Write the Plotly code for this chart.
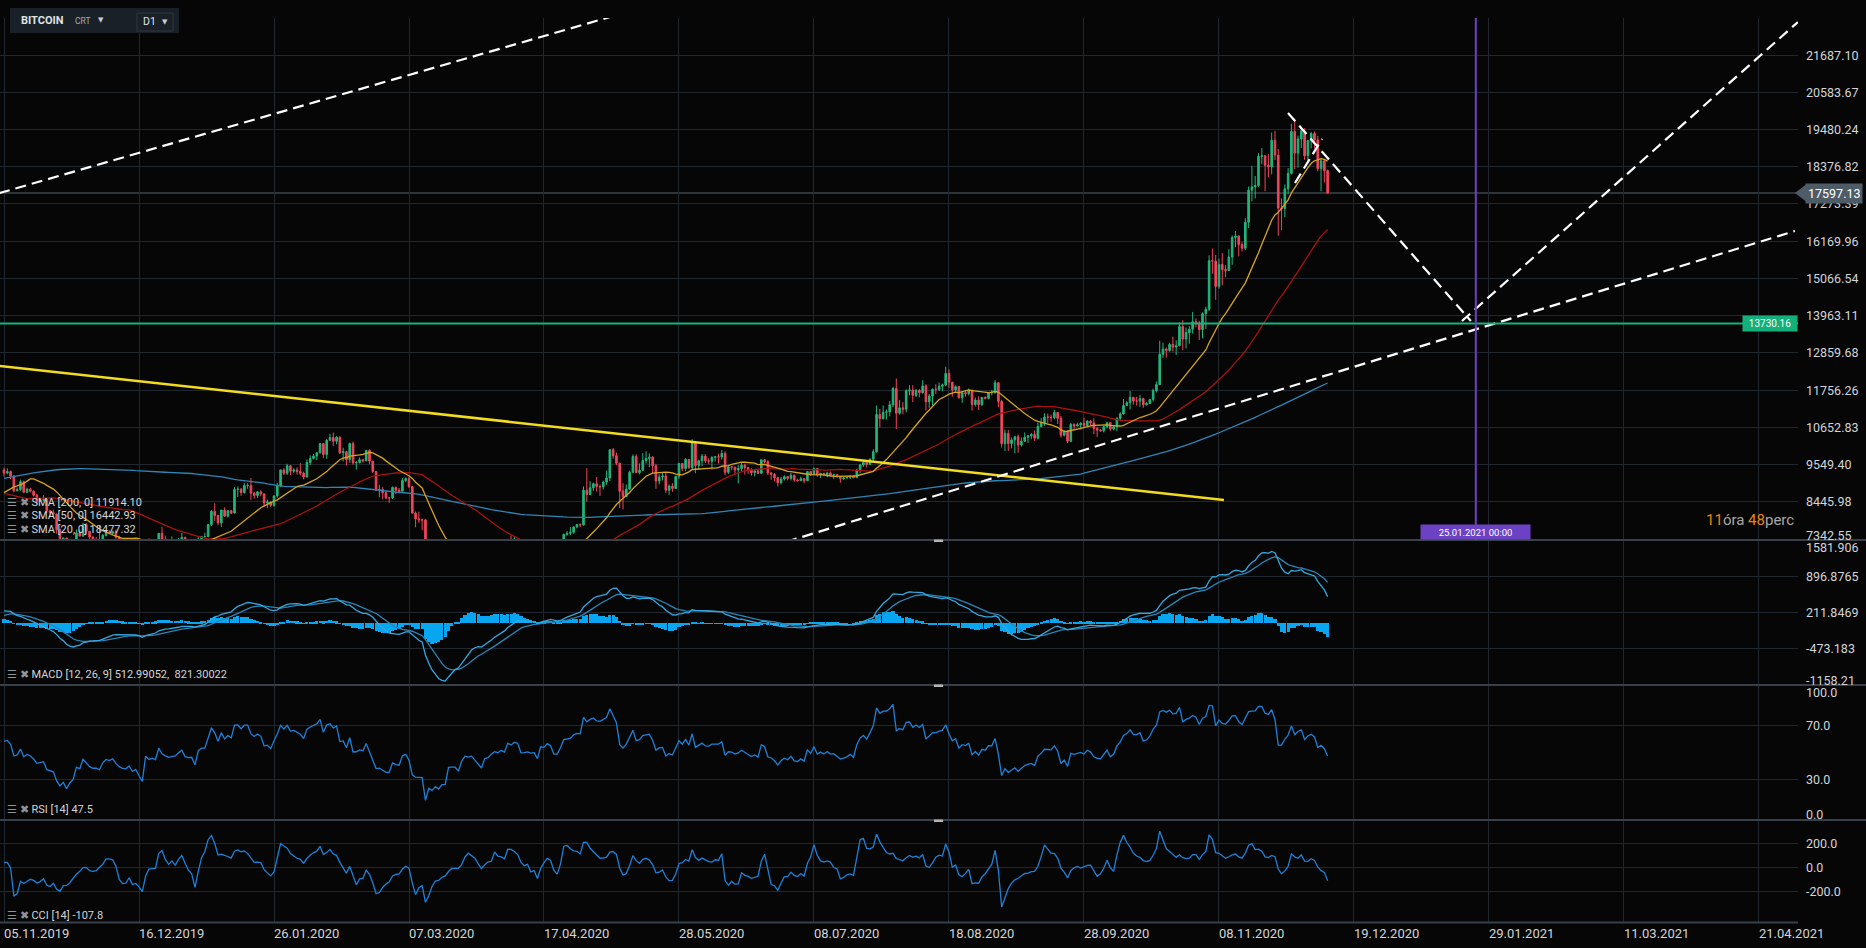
import numpy as np
import pandas as pd
import plotly.graph_objects as go

FONT = "Roboto"
BG = "#060606"
GRID = "#20272e"
SEP = "#38414a"
TXT = "#d2d5d8"
UP = "#22b57c"
DOWN = "#f0455b"

# ---- BITCOIN D1 candles 05.11.2019 - 11.12.2020 (open = previous close) ----
start_date = "2019-11-05"

close = [
    9300, 9340, 9210, 8770, 8810, 9040, 8730, 8820, 8760, 8640, 8460, 8490, 8510, 8180, 8120, 8080, 7620, 7280, 7370, 6900, 7050, 7150, 7520, 7430, 7760, 7570,
    7400, 7320, 7320, 7250, 7450, 7550, 7510, 7560, 7400, 7280, 7210, 7200, 7260, 7070, 7110, 6880, 6620, 7280, 7150, 7190, 7140, 7510, 7320, 7250, 7200, 7220, 7240, 7320, 7390, 7220, 7190,
    7200, 6990, 7340, 7410, 7410, 7770, 8160, 8040, 7820, 8200, 8020, 8180, 8110, 8810, 8820, 8720, 8930, 8930, 8700, 8630, 8740, 8680, 8410, 8440, 8340, 8620, 8910, 9390, 9290, 9510, 9350,
    9390, 9340, 9290, 9180, 9610, 9730, 9800, 9900, 10170, 9850, 10270, 10350, 10240, 10360, 9900, 9930, 9700, 10170, 9600, 9610, 9690, 9660, 9970, 9650, 9340, 8790, 8810, 8710, 8560,
    8560, 8870, 8790, 8760, 9080, 9130, 8900, 8110, 7940, 7910, 7910, 4970, 5560, 5200, 5390, 5010, 5230, 5240, 6190, 6200, 6190, 5830, 6420, 6740, 6680, 6730, 6470, 6240, 5880, 6390, 6440,
    6640, 6790, 6730, 6860, 6770, 7270, 7180, 7340, 7300, 6870, 6880, 6910, 6860, 6880, 6640, 7120, 7100, 7260, 7190, 6880, 6880, 7120, 7480, 7510, 7540, 7700, 7770, 7760, 8790, 8660,
    8860, 8980, 8900, 8890, 9030, 9150, 9990, 9810, 9590, 8760, 8600, 8820, 9320, 9790, 9310, 9380, 9670, 9730, 9770, 9510, 9060, 9180, 9210, 8790, 8910, 8840, 9200, 9580, 9430, 9700, 9460,
    10200, 9520, 9660, 9800, 9660, 9650, 9760, 9780, 9770, 9880, 9320, 9480, 9470, 9390, 9430, 9530, 9460, 9390, 9310, 9360, 9290, 9690, 9630, 9300, 9260, 9160, 9010, 9120, 9190, 9140,
    9230, 9090, 9070, 9130, 9070, 9340, 9250, 9430, 9240, 9290, 9240, 9300, 9240, 9250, 9190, 9130, 9150, 9170, 9210, 9160, 9390, 9540, 9610, 9550, 9710, 9930, 11030, 10910, 11100, 11110, 11320,
    11800, 11070, 11230, 11190, 11740, 11760, 11600, 11750, 11680, 11880, 11410, 11580, 11780, 11770, 11870, 11910, 12250, 11990, 11760, 11860, 11530, 11680, 11650, 11750, 11330, 11460, 11320, 11540, 11510, 11680, 11680,
    11970, 11420, 10170, 10470, 10170, 10280, 10370, 10130, 10240, 10360, 10400, 10440, 10330, 10680, 10790, 10960, 10950, 10940, 11090, 10920, 10420, 10540, 10240, 10740, 10690, 10730, 10770, 10710, 10840, 10780,
    10620, 10570, 10550, 10670, 10790, 10600, 10670, 10920, 11050, 11300, 11380, 11540, 11430, 11430, 11500, 11320, 11360, 11480, 11740, 11920, 12820, 12970, 12930, 13110, 13030, 13070, 13640, 13270, 13460, 13560, 13780,
    13740, 13550, 14020, 14150, 15590, 15580, 14830, 15480, 15330, 15300, 15700, 16280, 16320, 16070, 15960, 16730, 17680, 17780, 17820, 18680, 18700, 18420, 18370, 19160, 18720, 17150, 17140, 17720, 18180, 19420,
    18780, 19200, 19440, 18700, 19150, 19360, 19170, 18320, 18550, 18260, 17597.13,
]
high = [
    9460, 9440, 9370, 9230, 8870, 9100, 9070, 8860, 8860, 8790, 8680, 8540, 8640, 8520, 8200, 8210, 8100, 7650, 7380, 7380, 7260, 7220, 7630, 7620, 7830, 7820,
    7570, 7420, 7400, 7750, 7490, 7560, 7600, 7590, 7620, 7440, 7300, 7250, 7310, 7270, 7160, 7140, 6920, 7330, 7360, 7220, 7200, 7520, 7700, 7440, 7270, 7420, 7270, 7370, 7520, 7410, 7320,
    7250, 7210, 7410, 7420, 7530, 7780, 8200, 8400, 8060, 8200, 8280, 8200, 8200, 8880, 8900, 8850, 9000, 9000, 9150, 8740, 8760, 8790, 8680, 8510, 8450, 8630, 9010, 9400, 9440, 9570, 9530,
    9440, 9470, 9590, 9340, 9700, 9820, 9860, 9900, 10180, 10170, 10300, 10460, 10500, 10390, 10380, 10050, 9950, 10200, 10230, 9660, 9760, 9720, 9980, 10000, 9650, 9360, 8950, 8890, 8770,
    8590, 8900, 8900, 8850, 9150, 9170, 9190, 8900, 8160, 8150, 7950, 7920, 5840, 5640, 5880, 5390, 5370, 5330, 6330, 6860, 6380, 6390, 6430, 6800, 6940, 6770, 6820, 6470, 6260, 6570, 6520,
    6680, 7150, 7000, 6900, 6880, 7340, 7450, 7400, 7350, 7300, 6940, 7180, 6910, 6950, 6920, 7170, 7150, 7300, 7280, 7240, 6940, 7150, 7500, 7580, 7700, 7720, 7780, 7800, 8900, 9440,
    9060, 9010, 9180, 8960, 9070, 9370, 10000, 10040, 9900, 9590, 9000, 8960, 9370, 9850, 9850, 9580, 9890, 9940, 9880, 9800, 9570, 9260, 9310, 9300, 8960, 9000, 9210, 9600, 9600, 9740, 9700,
    10300, 10230, 9690, 9860, 9860, 9730, 9800, 9800, 9870, 9980, 9940, 9540, 9500, 9480, 9530, 9590, 9570, 9480, 9440, 9400, 9420, 9700, 9710, 9680, 9330, 9300, 9190, 9180, 9230, 9200,
    9300, 9250, 9130, 9190, 9140, 9360, 9350, 9460, 9440, 9300, 9300, 9330, 9340, 9280, 9270, 9210, 9180, 9200, 9240, 9220, 9420, 9550, 9640, 9660, 9730, 10000, 11300, 11200, 11300, 11180, 11430,
    11850, 12100, 11460, 11400, 11780, 11900, 11900, 11780, 11790, 12050, 11930, 11640, 11800, 11930, 11980, 11950, 12450, 12370, 12000, 11890, 11880, 11690, 11720, 11800, 11770, 11530, 11570, 11550, 11570, 11690, 11760,
    12050, 11980, 11470, 10580, 10570, 10350, 10400, 10440, 10350, 10500, 10420, 10480, 10560, 10790, 10930, 11070, 11060, 11030, 11170, 11100, 10990, 10560, 10560, 10780, 10770, 10790, 10800, 10940, 10860, 10860,
    10920, 10660, 10600, 10690, 10800, 10800, 10690, 10950, 11100, 11490, 11430, 11730, 11550, 11560, 11610, 11530, 11400, 11490, 11800, 12010, 13220, 13160, 13020, 13160, 13340, 13230, 13760, 13830, 13610, 13650, 14070,
    13880, 13810, 14060, 14230, 15750, 15950, 15760, 15650, 15820, 15460, 15930, 16340, 16470, 16340, 16140, 16850, 17790, 18400, 18100, 18780, 18930, 18720, 18750, 19390, 19440, 18900, 17440, 17850, 18340, 19650,
    19800, 19300, 19560, 19520, 19170, 19410, 19420, 19290, 18630, 18560, 18290,
]
low = [
    9200, 9260, 9110, 8730, 8760, 8770, 8700, 8700, 8720, 8600, 8380, 8440, 8460, 8110, 8000, 8050, 7500, 6950, 7170, 6860, 6620, 7020, 6900, 7420, 7420, 7480,
    7250, 7260, 7260, 7100, 7240, 7420, 7490, 7460, 7350, 7190, 7170, 7110, 7190, 7060, 7030, 6860, 6580, 6470, 7050, 7120, 7130, 7140, 7270, 7170, 7150, 7170, 7080, 7230, 7290, 7220, 7160,
    7170, 6940, 6910, 7290, 7400, 7410, 7720, 7880, 7760, 7700, 8000, 7980, 8080, 8100, 8590, 8620, 8690, 8830, 8500, 8540, 8560, 8610, 8300, 8250, 8300, 8300, 8570, 8880, 9240, 9240, 9240,
    9300, 9250, 9230, 9110, 9170, 9540, 9710, 9680, 9870, 9740, 9720, 10250, 10100, 10150, 9860, 9640, 9520, 9600, 9550, 9400, 9580, 9610, 9650, 9560, 9300, 8770, 8580, 8520, 8520,
    8410, 8530, 8670, 8690, 8760, 9030, 8850, 8100, 7690, 7820, 7600, 4860, 3860, 5090, 5180, 4580, 4980, 5040, 5230, 5860, 5910, 5810, 5790, 6380, 6500, 6540, 6430, 6060, 5860, 5860, 6370,
    6200, 6620, 6640, 6680, 6700, 6770, 7120, 7160, 7200, 6800, 6810, 6830, 6620, 6790, 6620, 6560, 7010, 7060, 7100, 6810, 6830, 6860, 7050, 7440, 7460, 7500, 7660, 7700, 7740, 8450,
    8640, 8770, 8750, 8620, 8810, 8950, 9060, 9720, 9530, 8260, 8220, 8580, 8800, 9300, 9300, 9260, 9380, 9580, 9470, 9300, 8830, 8960, 9080, 8710, 8650, 8740, 8820, 9130, 9350, 9350, 9420,
    9420, 9290, 9400, 9500, 9590, 9560, 9400, 9640, 9580, 9700, 9230, 9270, 9380, 9250, 8990, 9360, 9250, 9280, 9220, 9200, 9270, 9280, 9580, 9240, 9100, 9050, 8900, 8960, 9080, 9080,
    9080, 9040, 9050, 9060, 8990, 9060, 9210, 9240, 9190, 9150, 9200, 9170, 9210, 9120, 9160, 9010, 9090, 9130, 9120, 9140, 9150, 9290, 9480, 9460, 9540, 9650, 9900, 10650, 10880, 10880, 10980,
    11250, 10600, 11030, 11040, 11100, 11600, 11400, 11550, 11540, 11650, 11150, 11230, 11300, 11640, 11730, 11720, 11870, 11820, 11560, 11700, 11500, 11380, 11560, 11600, 11150, 11270, 11170, 11290, 11480, 11480, 11600,
    11650, 11250, 10050, 9950, 9950, 10030, 9880, 9900, 10080, 10220, 10190, 10300, 10250, 10290, 10650, 10700, 10790, 10820, 10890, 10750, 10350, 10380, 10180, 10210, 10570, 10680, 10590, 10650, 10660, 10690,
    10450, 10370, 10520, 10500, 10620, 10550, 10560, 10540, 10830, 11030, 11280, 11180, 11320, 11300, 11260, 11230, 11300, 11340, 11420, 11690, 11900, 12710, 12720, 12890, 12900, 12800, 13050, 12940, 12990, 13130, 13430,
    13620, 13240, 13290, 13570, 14100, 15200, 14430, 14760, 14860, 15100, 15280, 15470, 15990, 15720, 15870, 15900, 16560, 17350, 17440, 17780, 18450, 17650, 18060, 18150, 18570, 16330, 16500, 16880, 17560, 18140,
    18300, 18350, 18930, 18580, 18500, 18920, 18910, 18240, 17650, 17910, 17570,
]

# closes 19.04.2019 - 04.11.2019, only used to warm up SMA / MACD / RSI
pre_close = [
    5280, 5330, 5290, 5360, 5480, 5460, 5230, 5280, 5290, 5250, 5210, 5350,
    5400, 5510, 5750, 5830, 5760, 5720, 5870, 5980, 6160, 6350, 7210, 6970, 7810, 7990, 8200, 7880, 7350, 7260, 8190, 7990, 7950, 7630, 7880, 7990, 8050, 8670, 8800, 8720, 8660, 8270, 8560,
    8560, 8740, 8210, 7700, 7790, 7800, 8000, 7930, 7630, 8010, 7920, 8170, 8230, 8690, 8860, 8990, 9320, 9080, 9270, 9530, 10150, 10700, 10850, 11010, 11790, 13020, 11180, 12400, 11960, 10820,
    10580, 10800, 11980, 11210, 10980, 11210, 11480, 12300, 12580, 12100, 11350, 11800, 11390, 10260, 10850, 9470, 9690, 10650, 10530, 10760, 10590, 10330, 9910, 9850, 9890, 9840, 9480, 9530, 9530, 9500, 10090,
    10400, 10520, 10820, 10970, 11800, 11480, 11960, 11930, 11870, 11310, 11550, 11390, 10860, 10020, 10300, 10360, 10230, 10340, 10920, 10760, 10130, 10410, 10630, 10140, 10140, 10370, 10190, 9700, 9490, 9580, 9600,
    9760, 10390, 10620, 10590, 10580, 10320, 10500, 10440, 10340, 10120, 10150, 10360, 10360, 10360, 10310, 10260, 10180, 10160, 10280, 10170, 9990, 10030, 9700, 8530, 8430, 8060, 8240, 8210, 8050, 8290,
    8340, 8390, 8220, 8150, 8140, 7870, 8210, 8200, 8590, 8590, 8260, 8300, 8280, 8360, 8210, 8000, 8090, 7920, 7960, 8240, 8220, 8030, 7470, 7430, 8660, 9250, 9550, 9250, 9430, 9200, 9200,
    9260, 9310, 9200, 9390,
]
# highs / lows 22.10.2019 - 04.11.2019 (CCI warm-up)
pre_high = [8300, 8040, 7500, 8690, 10350, 9760, 9800, 9530, 9440, 9420, 9290, 9370, 9370, 9550]
pre_low = [8000, 7360, 7400, 7400, 8530, 9100, 9220, 9160, 9000, 8950, 9080, 9230, 9130, 9170]

last_price = 17597.13
support_level = 13730.16
marker_date = "2021-01-25"
marker_label = "25.01.2021 00:00"

sma_legend = ["SMA [200, 0] 11914.10", "SMA [50, 0] 16442.93", "SMA [20, 0] 18477.32"]
macd_legend = "MACD [12, 26, 9] 512.99052,  821.30022"
rsi_legend = "RSI [14] 47.5"
cci_legend = "CCI [14] -107.8"

x_tick_labels = ["05.11.2019", "16.12.2019", "26.01.2020", "07.03.2020", "17.04.2020", "28.05.2020", "08.07.2020",
                 "18.08.2020", "28.09.2020", "08.11.2020", "19.12.2020", "29.01.2021", "11.03.2021", "21.04.2021"]
price_tick_labels = ["7342.55", "8445.98", "9549.40", "10652.83", "11756.26", "12859.68", "13963.11",
                     "15066.54", "16169.96", "17273.39", "18376.82", "19480.24", "20583.67", "21687.10"]
macd_tick_labels = ["1581.906", "896.8765", "211.8469", "-473.183", "-1158.21"]
rsi_tick_labels = ["100.0", "70.0", "30.0", "0.0"]
cci_tick_labels = ["200.0", "0.0", "-200.0"]

# hand drawn lines on the chart: ((date, price), (date, price))
white_dashed = [
    (("2019-11-03 12:00", 17590), ("2020-06-03 10:00", 23584)),
    (("2020-06-24 14:00", 7110), ("2021-05-01 22:00", 16470)),
    (("2020-11-28 23:00", 19968), ("2021-01-23 12:00", 13803)),
    (("2021-01-20 19:00", 13803), ("2021-05-02 20:00", 22665)),
    (("2020-12-01 02:00", 17893), ("2020-12-09 07:00", 19197)),
]
yellow_line = (("2019-11-03 12:00", 12472), ("2020-11-09 12:00", 8497))

# ---- indicators ----
dates = pd.date_range(start_date, periods=len(close), freq="D")
pre_dates = pd.date_range(end=dates[0] - pd.Timedelta(days=1), periods=len(pre_close), freq="D")
idx = pre_dates.append(dates)

opens = [pre_close[-1]] + close[:-1]
hi = [max(h, o, c) for h, o, c in zip(high, opens, close)]
lo = [min(l, o, c) for l, o, c in zip(low, opens, close)]

c_all = pd.Series(pre_close + close, index=idx, dtype=float)
pad = [np.nan] * (len(pre_close) - len(pre_high))
h_all = pd.Series(pad + pre_high + hi, index=idx, dtype=float)
l_all = pd.Series(pad + pre_low + lo, index=idx, dtype=float)

sma = {n: c_all.rolling(n).mean().loc[dates] for n in (20, 50, 200)}

macd_all = c_all.ewm(span=12, adjust=False).mean() - c_all.ewm(span=26, adjust=False).mean()
signal_all = macd_all.ewm(span=9, adjust=False).mean()
macd = macd_all.loc[dates]
signal = signal_all.loc[dates]
hist = macd - signal

d = c_all.diff()
up = d.clip(lower=0).ewm(alpha=1 / 14, adjust=False).mean()
dn = (-d.clip(upper=0)).ewm(alpha=1 / 14, adjust=False).mean()
rsi = (100 - 100 / (1 + up / dn)).loc[dates]

tp = (h_all + l_all + c_all) / 3
tp_ma = tp.rolling(14).mean()
tp_md = tp.rolling(14).apply(lambda v: np.mean(np.abs(v - v.mean())), raw=True)
cci = ((tp - tp_ma) / (0.015 * tp_md)).loc[dates]

# ---- geometry (pixels of the 1866x948 page) ----
W, H = 1866, 948
PL, PR, PT, PB = 0, 1798, 18, 923


def px(x):
    return (x - PL) / (PR - PL)


def py(y):
    return (PB - y) / (PB - PT)


main_dom = [py(540), 1]
macd_dom = [py(685), py(540)]
rsi_dom = [py(820), py(685)]
cci_dom = [0, py(820)]

x_range = ["2019-11-03 18:50", "2021-05-02 20:25"]
main_range = [7312.9, 22783.7]
macd_range = [-1177.0, 1582.0]
rsi_range = [0, 100]
cci_range = [-472, 404]

fig = go.Figure()

fig.add_trace(go.Candlestick(
    x=dates, open=opens, high=hi, low=lo, close=close,
    increasing=dict(line=dict(color=UP, width=1), fillcolor=UP),
    decreasing=dict(line=dict(color=DOWN, width=1), fillcolor=DOWN),
    xaxis="x", yaxis="y", showlegend=False, hoverinfo="skip",
))
for n, col in ((200, "#2f86b6"), (50, "#a8120f"), (20, "#d6a51c")):
    fig.add_trace(go.Scatter(x=dates, y=sma[n], mode="lines", line=dict(color=col, width=1.3),
                             xaxis="x", yaxis="y", showlegend=False, hoverinfo="skip"))

fig.add_trace(go.Scatter(
    x=[yellow_line[0][0], yellow_line[1][0]], y=[yellow_line[0][1], yellow_line[1][1]],
    mode="lines", line=dict(color="#f2dc22", width=2.5), xaxis="x", yaxis="y", showlegend=False, hoverinfo="skip"))
for (d0, p0), (d1, p1) in white_dashed:
    fig.add_trace(go.Scatter(x=[d0, d1], y=[p0, p1], mode="lines",
                             line=dict(color="#ffffff", width=2.2, dash="11px,6px"),
                             xaxis="x", yaxis="y", showlegend=False, hoverinfo="skip"))

# MACD pane
fig.add_trace(go.Bar(x=dates, y=hist, marker=dict(color="#08a6f0", line=dict(width=0)),
                     width=86400000 * 0.95, xaxis="x", yaxis="y2", showlegend=False, hoverinfo="skip"))
fig.add_trace(go.Scatter(x=dates, y=signal, mode="lines", line=dict(color="#2a86b8", width=1.3),
                         xaxis="x", yaxis="y2", showlegend=False, hoverinfo="skip"))
fig.add_trace(go.Scatter(x=dates, y=macd, mode="lines", line=dict(color="#35a8e0", width=1.3),
                         xaxis="x", yaxis="y2", showlegend=False, hoverinfo="skip"))
# RSI / CCI panes
fig.add_trace(go.Scatter(x=dates, y=rsi, mode="lines", line=dict(color="#1f80d8", width=1.3),
                         xaxis="x", yaxis="y3", showlegend=False, hoverinfo="skip"))
fig.add_trace(go.Scatter(x=dates, y=cci, mode="lines", line=dict(color="#1f80d8", width=1.3),
                         xaxis="x", yaxis="y4", showlegend=False, hoverinfo="skip"))

x_ticks = pd.to_datetime(x_tick_labels, format="%d.%m.%Y")


def yax(dom, rng, ticks):
    return dict(domain=dom, range=rng, tickvals=ticks, showticklabels=False, showgrid=True,
                gridcolor=GRID, gridwidth=1, zeroline=False, showline=False, ticks="",
                fixedrange=True, anchor="x")


price_vals = [float(t) for t in price_tick_labels]
macd_vals = [float(t) for t in macd_tick_labels]
rsi_vals = [float(t) for t in rsi_tick_labels]
cci_vals = [float(t) for t in cci_tick_labels]

shapes = []
for yy in (540, 685, 820):
    shapes.append(dict(type="line", xref="paper", yref="paper", x0=0, x1=px(W), y0=py(yy), y1=py(yy),
                       line=dict(color=SEP, width=2)))
    shapes.append(dict(type="rect", xref="paper", yref="paper", x0=px(934), x1=px(943),
                       y0=py(yy + 2), y1=py(yy - 0.5), fillcolor="#b4b4b4", line=dict(width=0)))
shapes.append(dict(type="line", xref="paper", yref="paper", x0=0, x1=1, y0=py(922.5), y1=py(922.5),
                   line=dict(color=SEP, width=2)))
# current price line + marker arrow
shapes.append(dict(type="line", xref="x domain", yref="y", x0=0, x1=1, y0=last_price, y1=last_price,
                   line=dict(color="#56646f", width=1), layer="below"))
shapes.append(dict(type="path", xref="paper", yref="y", fillcolor="#4e5c68", line=dict(width=0),
                   path=f"M {px(1795)},{last_price} L {px(1806)},{last_price + 250} L {px(1806)},{last_price - 250} Z"))
# support line
shapes.append(dict(type="line", xref="x domain", yref="y", x0=0, x1=1, y0=support_level, y1=support_level,
                   line=dict(color="#18b27f", width=2)))
# vertical date marker
shapes.append(dict(type="line", xref="x", yref="y domain", x0=marker_date, x1=marker_date, y0=0, y1=1,
                   line=dict(color="#6c42c4", width=2)))
# top-left symbol panel
shapes.append(dict(type="rect", xref="paper", yref="paper", x0=px(10), x1=px(179), y0=py(33), y1=py(8),
                   fillcolor="#1a2027", line=dict(width=0)))
shapes.append(dict(type="rect", xref="paper", yref="paper", x0=px(137), x1=px(173), y0=py(31), y1=py(13),
                   fillcolor="#1a2027", line=dict(color="#2e3740", width=1)))

ann = []


def note(text, x, y, size, color=TXT, xanchor="left", family=FONT, **kw):
    ann.append(dict(text=text, x=x, xref="paper", xanchor=xanchor, y=y, yref="paper", yanchor="middle",
                    showarrow=False, font=dict(family=family, size=size, color=color), **kw))


def ylab(text, val, yref, shift=0):
    ann.append(dict(text=text, x=1, xref="paper", xanchor="left", xshift=6, y=val, yref=yref,
                    yanchor="middle", yshift=shift, showarrow=False,
                    font=dict(family=FONT, size=12.5, color=TXT)))


for t, v in zip(price_tick_labels, price_vals):
    ylab(t, v, "y", 4 if t == "7342.55" else 0)
for t, v in zip(macd_tick_labels, macd_vals):
    ylab(t, v, "y2", -7 if t == "1581.906" else (4 if t == "-1158.21" else 0))
for t, v in zip(rsi_tick_labels, rsi_vals):
    ylab(t, v, "y3", -7 if t == "100.0" else (6 if t == "0.0" else 0))
for t, v in zip(cci_tick_labels, cci_vals):
    ylab(t, v, "y4")

for t, d0 in zip(x_tick_labels, x_ticks):
    ann.append(dict(text=t, x=d0, xref="x", xanchor="left", xshift=-2, y=0, yref="paper", yanchor="top",
                    yshift=-1, showarrow=False, font=dict(family=FONT, size=13, color=TXT)))

# price boxes
ann.append(dict(text=f"{last_price:.2f}", x=1, xref="paper", xanchor="left", xshift=7, y=last_price, yref="y",
                yanchor="middle", showarrow=False, bgcolor="#4e5c68", borderpad=2,
                font=dict(family=FONT, size=12.5, color="#ffffff")))
ann.append(dict(text=f"{support_level:.2f}", x=1, xref="x domain", xanchor="right", y=support_level, yref="y",
                yanchor="middle", showarrow=False, bgcolor="#14b07b", borderpad=2, width=50,
                font=dict(family=FONT, size=10, color="#f4fff9")))
ann.append(dict(text=marker_label, x=marker_date, xref="x", xanchor="center", y=0, yref="y domain",
                yanchor="bottom", showarrow=False, bgcolor="#6c42c4", width=107, height=12, borderpad=1,
                font=dict(family=FONT, size=9.5, color="#ffffff")))
note("<span style='color:#e8870e'>11</span>óra <span style='color:#e8870e'>48</span>perc",
     1, py(520), 15, color="#a8a8a8", xanchor="right", xshift=-2)

icon = "<span style='color:#8e949a'>☰ ✖</span> "
for txt, yy in zip(sma_legend, (502, 515, 529)):
    note(icon + txt, px(5), py(yy), 11)
for txt, yy in ((macd_legend, 674), (rsi_legend, 809), (cci_legend, 915)):
    note(icon + txt, px(5), py(yy), 11)

# symbol panel texts
note("<b>BITCOIN</b>", px(19), py(21), 11, color="#dfe3e6")
note("CRT", px(73), py(21), 8.5, color="#a3abb2")
note("▼", px(96), py(20), 7, color="#c8cdd1", family="DejaVu Sans")
note("D1", px(141), py(22), 10.5, color="#dfe3e6")
note("▼", px(160), py(22), 7, color="#c8cdd1", family="DejaVu Sans")

fig.update_layout(
    width=W, height=H,
    margin=dict(l=PL, r=W - PR, t=PT, b=H - PB),
    paper_bgcolor=BG, plot_bgcolor=BG,
    font=dict(family=FONT, color=TXT),
    showlegend=False, hovermode=False, bargap=0,
    xaxis=dict(domain=[0, 1], anchor="y4", type="date", range=x_range, tickvals=x_ticks,
               showticklabels=False, showgrid=True, gridcolor=GRID, gridwidth=1, zeroline=False,
               showline=False, ticks="", fixedrange=True, rangeslider=dict(visible=False)),
    yaxis=yax(main_dom, main_range, price_vals),
    yaxis2=yax(macd_dom, macd_range, macd_vals),
    yaxis3=yax(rsi_dom, rsi_range, rsi_vals),
    yaxis4=yax(cci_dom, cci_range, cci_vals),
    shapes=shapes,
    annotations=ann,
)

# the page body has a default 8px margin; drop it so the chart fills the window edge to edge
fig.write_html("out.html", config={"displayModeBar": False},
               post_script="document.body.style.margin='0';document.body.style.overflow='hidden';document.body.style.background='#060606';")
